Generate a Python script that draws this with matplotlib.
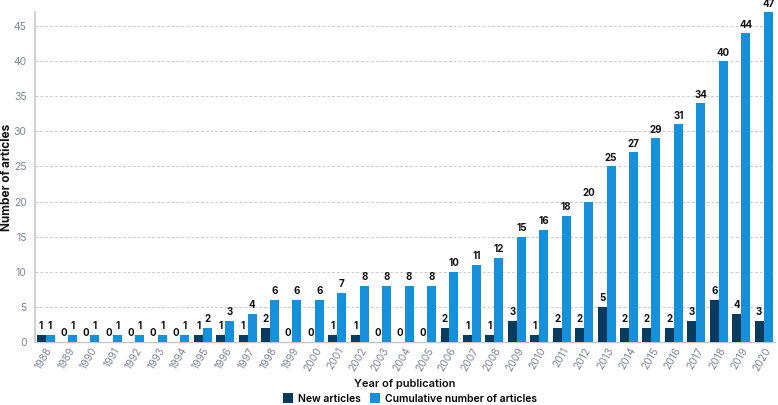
import matplotlib
matplotlib.use("Agg")
import matplotlib.pyplot as plt
import numpy as np

years = [str(y) for y in range(1988, 2021)]
new_articles = [1,0,0,0,0,0,0,1,1,1,2,0,0,1,1,0,0,0,2,1,1,3,1,2,2,5,2,2,2,3,6,4,3]
cumulative = [1,1,1,1,1,1,1,2,3,4,6,6,6,7,8,8,8,8,10,11,12,15,16,18,20,25,27,29,31,34,40,44,47]

plt.rcParams['font.family'] = ['Inter', 'DejaVu Sans']

fig = plt.figure(figsize=(7.78, 4.05), dpi=100)
ax = fig.add_axes([0.045, 0.156, 0.951, 0.814])

x = np.arange(len(years))
w = 0.4
dark = '#0b3a5f'
blue = '#1790dc'
b1 = ax.bar(x - w/2, new_articles, w, color=dark, label='New articles', zorder=3)
b2 = ax.bar(x + w/2, cumulative, w, color=blue, label='Cumulative number of articles', zorder=3)

for xi, v in zip(x, new_articles):
    ax.text(xi - w/2, v + 0.5, str(v), ha='center', va='bottom', fontsize=7, fontweight='bold', color='#111111', clip_on=False)
for xi, v in zip(x, cumulative):
    ax.text(xi + w/2, v + 0.5, str(v), ha='center', va='bottom', fontsize=7, fontweight='bold', color='#111111', clip_on=False)

ax.set_xlim(-0.47, len(years) - 0.5)
ax.set_ylim(0, 47)
ax.set_yticks(range(0, 50, 5))
ax.set_xticks(x)
ax.set_xticklabels(years, rotation=60, ha='right', rotation_mode='anchor', fontsize=7.5, color='#7f8797')
ax.tick_params(axis='y', labelsize=7.5, labelcolor='#7f8797', length=0, pad=6)
ax.tick_params(axis='x', length=0, pad=3)
ax.yaxis.grid(True, linestyle=(0, (3, 2)), color='#cccccc', linewidth=0.7, zorder=0)
ax.set_axisbelow(True)
for s in ['top', 'right']:
    ax.spines[s].set_visible(False)
ax.spines['left'].set_color('#c8c8c8')
ax.spines['left'].set_linewidth(1.2)
ax.spines['bottom'].set_color('#c8c8c8')
ax.spines['bottom'].set_linewidth(1.0)

ax.set_ylabel('Number of articles', fontsize=8.5, fontweight='bold', color='#111111')
ax.yaxis.set_label_coords(-0.03, 0.5)
ax.set_xlabel('Year of publication', fontsize=8, fontweight='semibold', color='#111111', labelpad=4)

fig.legend(handles=[b1, b2], loc='lower center', bbox_to_anchor=(0.527, -0.02), ncol=2,
           frameon=False, prop={'size': 7.5, 'weight': 'semibold'}, handlelength=1.0, handleheight=1.0,
           handletextpad=0.5, columnspacing=0.8)

fig.savefig('out.png', dpi=100)
